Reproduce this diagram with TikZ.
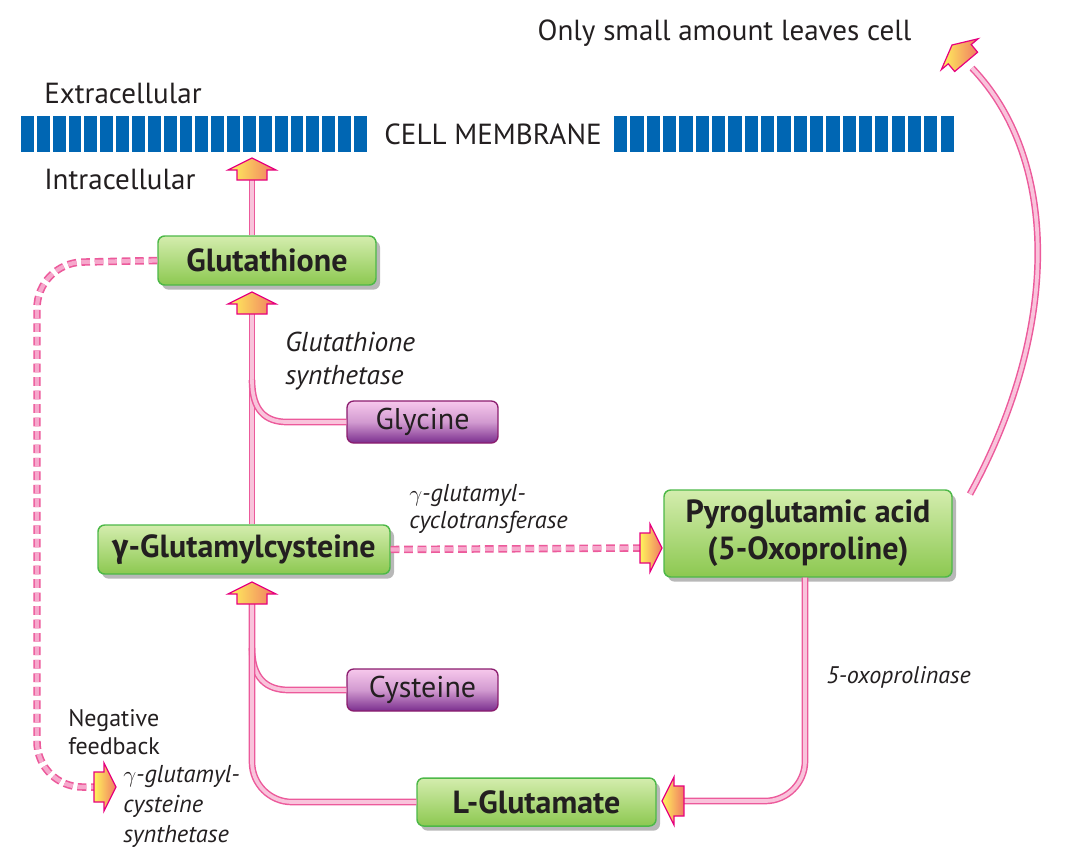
\documentclass[tikz,border=0pt]{standalone}
\usepackage{fontspec}
\setmainfont{PT Sans}
\newfontfamily\grk{Fira Sans}
\usetikzlibrary{shadows}
\definecolor{memblue}{HTML}{0066B3}
\definecolor{boxgreenT}{HTML}{D4EDAE}
\definecolor{boxgreenB}{HTML}{8CC850}
\definecolor{boxgreenD}{HTML}{4DB848}
\definecolor{purT}{HTML}{F7C8EC}
\definecolor{purB}{HTML}{7A2E8E}
\definecolor{purD}{HTML}{8B1C6E}
\definecolor{connO}{HTML}{EC5A9B}
\definecolor{connI}{HTML}{F9C3DB}
\definecolor{dashI}{HTML}{F6A8CC}
\definecolor{arrY}{HTML}{FFF35C}
\definecolor{arrO}{HTML}{F07A62}
\definecolor{arrD}{HTML}{E6007E}
\definecolor{txt}{HTML}{231F20}
\tikzset{
  greenbox/.style={draw=boxgreenD, line width=1.1pt, rounded corners=5pt,
    top color=boxgreenT, bottom color=boxgreenB,
    general shadow={fill=black!28, shadow xshift=3pt, shadow yshift=-3.5pt},
    font=\fontsize{24}{27.75}\selectfont\bfseries, text=txt, inner sep=0pt, align=center},
  purplebox/.style={draw=purD, line width=1pt, rounded corners=5pt,
    top color=purT, bottom color=purB, middle color=purT!70!purB,
    font=\fontsize{22.5}{24}\selectfont, text=txt, inner sep=0pt,
    minimum width=113.25pt, minimum height=31.5pt},
  conn/.style={draw=connO, line width=1.1pt, double=connI, double distance=2.8pt},
  dconn/.style={draw=connO, line width=1.2pt, double=dashI, double distance=3.2pt,
    dash pattern=on 6.5pt off 3.6pt},
  lbl/.style={font=\fontsize{21.8}{24}\selectfont, text=txt, inner sep=0pt},
  ilbl/.style={font=\fontsize{20.5}{24.75}\selectfont\itshape, text=txt, inner sep=0pt, align=left},
  fatarrow/.pic={
    \path[draw=arrD, line width=0.9pt, left color=arrY, right color=arrO]
      (0,0) -- (24,12) -- (15,12) -- (15,22) -- (-15,22) -- (-15,12) -- (-24,12) -- cycle;
  }
}
\begin{document}
\begin{tikzpicture}[x=0.75pt,y=-0.75pt]
\useasboundingbox (0,0) rectangle (1066,858);

% membrane
\foreach \i in {0,...,21} \fill[memblue] ({21+\i*15.86},116) rectangle ++(12.8,36);
\foreach \i in {0,...,20} \fill[memblue] ({614+\i*16.33},116) rectangle ++(13.2,36);
\node[lbl] (memb) at (493,134) {CELL MEMBRANE};
\node[lbl, anchor=west] (extra) at (44,93) {Extracellular};
\node[lbl, anchor=west] (intra) at (44,179) {Intracellular};
\node[lbl] (leaves) at (724.5,33) {Only small amount leaves cell};

% boxes
\node[greenbox, minimum width=163.5pt, minimum height=36.75pt] (glut) at (267,260.5) {Glutathione};
\node[purplebox] (gly) at (422.5,422) {Glycine};
\node[greenbox, minimum width=219pt, minimum height=36.75pt] (ggc) at (244,549.5) {{\grk γ}-Glutamylcysteine};
\node[greenbox, minimum width=216pt, minimum height=65.25pt] (pyro) at (808,533.5) {Pyroglutamic acid\\(5-Oxoproline)};
\node[purplebox] (cys) at (422.5,690) {Cysteine};
\node[greenbox, minimum width=179.25pt, minimum height=36pt] (lglu) at (536.5,802) {L-Glutamate};

% arrow base coordinates
\coordinate (a1) at (252,180);
\coordinate (a2) at (252,314);
\coordinate (a3) at (252,604);
\coordinate (a4) at (640,548);
\coordinate (a5) at (684,801);
\coordinate (a6) at (94,787);
\coordinate (a7) at (972,68);
\coordinate (g1) at (252,380);
\coordinate (c1) at (252,648);

% connectors
\draw[conn] (glut.north -| a1) -- (a1);
\draw[conn] (ggc.north -| a2) -- (a2);
\draw[conn] (gly.west) -- (287,422) .. controls (265,422) and (252,410) .. (g1);
\draw[conn] (cys.west) -- (289,690) .. controls (266,690) and (252,678) .. (c1);
\draw[conn, rounded corners=30pt] (a3) |- (lglu.west);
\draw[conn, rounded corners=30pt] (pyro.south -| 805,0) |- (a5);
\draw[conn] (970,494) .. controls (1060,330) and (1060,160) .. (a7);
\draw[dconn] (ggc.east) -- (a4);
\draw[dconn, rounded corners=34pt] (glut.west) -- (37,263) -- (37,787) -- (a6);

% fat arrows
\pic at (252,158) {fatarrow};
\pic at (252,292) {fatarrow};
\pic at (252,582) {fatarrow};
\pic[rotate=-90] at (662,548) {fatarrow};
\pic[rotate=90] at (662,801) {fatarrow};
\pic[rotate=-90] at (116,787) {fatarrow};
\pic[rotate=40] at (952,45) {fatarrow};

% labels
\node[ilbl, anchor=west] (gs) at (285,361.5) {Glutathione\\synthetase};
\node[ilbl, anchor=west, font=\fontsize{18.3}{20}\selectfont\itshape] (gct) at (409,509) {$\gamma$-glutamyl-\\cyclotransferase};
\node[ilbl, anchor=west, font=\fontsize{18}{20}\selectfont\itshape] (oxo) at (826,677) {5-oxoprolinase};
\node[lbl, anchor=west, align=left, font=\fontsize{18}{21}\selectfont] (negf) at (68,732) {Negative\\feedback};
\node[ilbl, anchor=west, font=\fontsize{18.3}{22.5}\selectfont\itshape] (gcs) at (123,806) {$\gamma$-glutamyl-\\cysteine\\synthetase};
\end{tikzpicture}
\end{document}
